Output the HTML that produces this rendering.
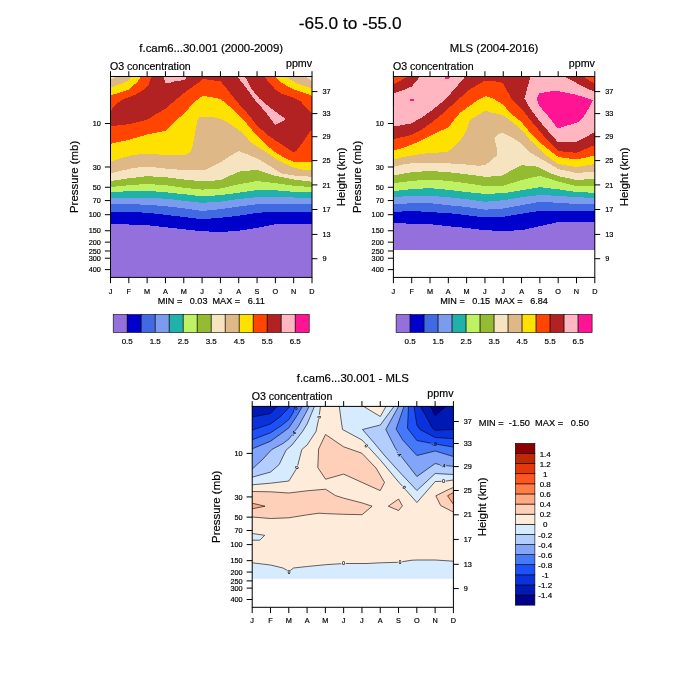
<!DOCTYPE html>
<html><head><meta charset="utf-8"><title>-65.0 to -55.0</title>
<style>
html,body{margin:0;padding:0;background:#fff;}
body{width:700px;height:700px;overflow:hidden;}
svg{display:block;font-family:"Liberation Sans",sans-serif;fill:#000;}
text{stroke:#000;stroke-width:0.18px;}
</style></head><body>
<svg width="700" height="700" viewBox="0 0 700 700">
<rect width="700" height="700" fill="#fff"/>
<g shape-rendering="crispEdges">
<rect x="110.5" y="76.5" width="201.5" height="200.9" fill="#9370DB"/>
<polygon points="110.5,76.5 110.5,224.1 128.8,224.5 147.1,225.2 165.5,227.2 183.8,229.3 202.1,231.2 220.4,232.0 238.7,230.8 257.0,227.8 275.4,224.2 293.7,224.1 312.0,224.1 312.0,76.5" fill="#0000CD" />
<polygon points="110.5,76.5 110.5,211.8 128.8,211.8 147.1,212.8 165.5,214.8 183.8,217.0 202.1,219.2 220.4,217.8 238.7,215.8 257.0,212.8 275.4,211.8 293.7,211.8 312.0,211.8 312.0,76.5" fill="#4169E1" />
<polygon points="110.5,76.5 110.5,204.2 128.8,204.2 147.1,204.7 165.5,206.2 183.8,208.3 202.1,211.0 220.4,209.2 238.7,206.5 257.0,204.2 275.4,203.9 293.7,203.9 312.0,203.9 312.0,76.5" fill="#7B9BEF" />
<polygon points="110.5,76.5 110.5,197.8 128.8,197.5 147.1,197.8 165.5,198.7 183.8,200.8 202.1,202.8 220.4,201.7 238.7,199.0 257.0,197.2 275.4,197.2 293.7,197.5 312.0,197.8 312.0,76.5" fill="#20B2AA" />
<polygon points="110.5,76.5 110.5,192.2 128.8,191.2 147.1,190.8 165.5,192.2 183.8,194.2 202.1,196.3 220.4,195.2 238.7,192.7 257.0,190.0 275.4,190.3 293.7,191.8 312.0,192.2 312.0,76.5" fill="#BEF264" />
<polygon points="110.5,76.5 110.5,187.0 128.8,185.2 147.1,184.0 165.5,185.2 183.8,187.8 202.1,189.6 220.4,188.5 238.7,184.3 257.0,181.0 275.4,183.2 293.7,185.8 312.0,187.0 312.0,76.5" fill="#94BC32" />
<polygon points="110.5,76.5 110.5,181.0 128.8,178.3 147.1,176.2 165.5,177.2 183.8,179.5 202.1,181.3 220.4,180.2 238.7,171.7 257.0,169.8 275.4,175.8 293.7,179.5 312.0,181.8 312.0,76.5" fill="#F5E4BF" />
<polygon points="110.5,76.5 110.5,173.5 120.0,171.0 132.0,168.3 144.0,166.8 156.0,167.5 165.6,168.6 184.0,170.1 204.0,170.5 210.0,167.5 220.0,162.5 230.0,156.0 238.5,151.0 247.5,154.4 257.1,158.5 270.0,166.0 275.4,169.8 282.0,173.5 293.7,175.5 312.0,176.8 312.0,76.5" fill="#DEB887" />
<polygon points="110.5,76.5 110.7,161.5 120.0,158.5 129.0,155.8 139.5,154.3 147.4,154.0 165.6,154.8 183.9,155.2 190.5,152.5 192.8,145.0 195.0,133.0 197.2,121.0 199.5,117.2 210.0,116.8 216.0,117.7 220.5,118.8 228.0,122.5 238.8,130.0 244.5,134.5 250.5,142.0 257.1,146.5 267.0,152.5 275.4,158.5 285.0,163.8 293.7,167.5 303.0,169.8 312.0,170.5 312.0,76.5" fill="#FFE100" />
<polygon points="110.5,76.5 110.7,143.8 120.0,141.7 129.0,139.8 147.4,134.5 165.6,130.8 175.5,121.0 183.9,113.5 195.0,101.5 202.2,96.2 210.0,96.7 220.5,99.2 225.0,102.6 235.0,111.0 245.0,121.5 255.0,133.5 265.0,144.0 275.0,152.0 285.0,158.0 295.0,162.3 303.0,162.3 312.2,161.8 312.0,76.5" fill="#FF4500" />
<polygon points="110.7,126.2 120.0,125.2 130.5,124.0 147.4,119.5 156.0,114.2 165.6,108.5 183.9,93.0 193.0,86.5 200.0,81.5 203.0,79.0 210.0,79.9 214.5,80.5 220.5,81.2 225.0,86.5 229.5,92.5 238.8,103.8 247.5,113.5 257.1,125.5 267.0,134.5 275.4,140.5 285.0,146.5 293.7,152.5 297.0,150.2 303.0,142.0 309.0,133.0 312.1,129.2 312.1,113.5 306.0,107.5 300.0,100.8 293.7,97.8 282.0,94.0 275.4,89.5 270.0,83.5 264.0,76.3 151.8,76.3 150.0,80.5 148.5,85.0 144.0,89.5 135.0,94.8 129.8,97.0 123.0,99.2 116.2,103.8 110.7,110.8" fill="#B22222" />
<polygon points="163.8,76.3 165.0,82.8 169.5,82.8 177.0,80.8 184.5,80.2 187.2,76.3" fill="#FFB6C1" />
<polygon points="237.0,76.3 247.5,89.5 255.0,100.0 265.5,112.0 275.2,124.8 280.5,122.5 285.8,119.2 270.0,107.5 259.5,98.5 252.0,89.5 244.8,76.3" fill="#FFB6C1" />
<polygon points="110.7,76.3 141.0,76.3 137.2,82.0 129.0,89.5 120.0,92.5 110.7,95.2" fill="#FFE100" />
<polygon points="110.7,76.3 132.0,76.3 127.5,81.2 120.0,84.2 110.7,87.7" fill="#DEB887" />
<polygon points="110.7,76.3 117.0,76.3 114.0,78.2 110.7,79.3" fill="#F5E4BF" />
<polygon points="274.5,76.3 280.5,82.0 288.0,86.5 293.7,89.5 303.0,92.5 312.1,95.8 312.1,76.3" fill="#FFE100" />
<polygon points="285.0,76.3 291.0,79.8 297.0,83.5 306.0,86.5 312.1,88.3 312.1,76.3" fill="#DEB887" />
<polygon points="305.4,76.3 312.1,81.2 312.1,76.3" fill="#F5E4BF" />
</g>
<rect x="110.5" y="76.5" width="201.5" height="200.9" fill="none" stroke="#000" stroke-width="1"/>
<path d="M110.50 76.5V71.2M110.50 277.4V283.2M128.82 76.5V71.2M128.82 277.4V283.2M147.14 76.5V71.2M147.14 277.4V283.2M165.45 76.5V71.2M165.45 277.4V283.2M183.77 76.5V71.2M183.77 277.4V283.2M202.09 76.5V71.2M202.09 277.4V283.2M220.41 76.5V71.2M220.41 277.4V283.2M238.73 76.5V71.2M238.73 277.4V283.2M257.05 76.5V71.2M257.05 277.4V283.2M275.36 76.5V71.2M275.36 277.4V283.2M293.68 76.5V71.2M293.68 277.4V283.2M312.00 76.5V71.2M312.00 277.4V283.2M110.5 123.50H104.9M110.5 167.01H104.9M110.5 187.25H104.9M110.5 200.57H104.9M110.5 214.70H104.9M110.5 230.76H104.9M110.5 242.15H104.9M110.5 250.99H104.9M110.5 258.21H104.9M110.5 269.61H104.9M312.0 91.60H317.4M312.0 113.60H317.4M312.0 136.70H317.4M312.0 160.60H317.4M312.0 184.90H317.4M312.0 209.50H317.4M312.0 234.40H317.4M312.0 258.70H317.4" stroke="#000" stroke-width="1" fill="none"/>
<text x="110.5" y="293.5" font-size="7.30" text-anchor="middle" >J</text>
<text x="128.8" y="293.5" font-size="7.30" text-anchor="middle" >F</text>
<text x="147.1" y="293.5" font-size="7.30" text-anchor="middle" >M</text>
<text x="165.5" y="293.5" font-size="7.30" text-anchor="middle" >A</text>
<text x="183.8" y="293.5" font-size="7.30" text-anchor="middle" >M</text>
<text x="202.1" y="293.5" font-size="7.30" text-anchor="middle" >J</text>
<text x="220.4" y="293.5" font-size="7.30" text-anchor="middle" >J</text>
<text x="238.7" y="293.5" font-size="7.30" text-anchor="middle" >A</text>
<text x="257.0" y="293.5" font-size="7.30" text-anchor="middle" >S</text>
<text x="275.4" y="293.5" font-size="7.30" text-anchor="middle" >O</text>
<text x="293.7" y="293.5" font-size="7.30" text-anchor="middle" >N</text>
<text x="312.0" y="293.5" font-size="7.30" text-anchor="middle" >D</text>
<text x="100.9" y="126.1" font-size="7.30" text-anchor="end" >10</text>
<text x="100.9" y="169.6" font-size="7.30" text-anchor="end" >30</text>
<text x="100.9" y="189.8" font-size="7.30" text-anchor="end" >50</text>
<text x="100.9" y="203.2" font-size="7.30" text-anchor="end" >70</text>
<text x="100.9" y="217.3" font-size="7.30" text-anchor="end" >100</text>
<text x="100.9" y="233.4" font-size="7.30" text-anchor="end" >150</text>
<text x="100.9" y="244.8" font-size="7.30" text-anchor="end" >200</text>
<text x="100.9" y="253.6" font-size="7.30" text-anchor="end" >250</text>
<text x="100.9" y="260.8" font-size="7.30" text-anchor="end" >300</text>
<text x="100.9" y="272.2" font-size="7.30" text-anchor="end" >400</text>
<text x="322.4" y="94.2" font-size="7.30" text-anchor="start" >37</text>
<text x="322.4" y="116.2" font-size="7.30" text-anchor="start" >33</text>
<text x="322.4" y="139.3" font-size="7.30" text-anchor="start" >29</text>
<text x="322.4" y="163.2" font-size="7.30" text-anchor="start" >25</text>
<text x="322.4" y="187.5" font-size="7.30" text-anchor="start" >21</text>
<text x="322.4" y="212.1" font-size="7.30" text-anchor="start" >17</text>
<text x="322.4" y="237.0" font-size="7.30" text-anchor="start" >13</text>
<text x="322.4" y="261.3" font-size="7.30" text-anchor="start" >9</text>
<text x="211.2" y="52.2" font-size="11.40" text-anchor="middle" >f.cam6...30.001 (2000-2009)</text>
<text x="110.0" y="69.6" font-size="10.60" text-anchor="start" >O3 concentration</text>
<text x="312.1" y="67.1" font-size="10.70" text-anchor="end" >ppmv</text>
<text transform="translate(78.3 176.9) rotate(-90)" font-size="11.4" text-anchor="middle">Pressure (mb)</text>
<text transform="translate(345.0 176.9) rotate(-90)" font-size="11.4" text-anchor="middle">Height (km)</text>
<text x="211.2" y="303.8" font-size="9.10" text-anchor="middle" xml:space="preserve">MIN =   0.03  MAX =   6.11</text>
<rect x="113.2" y="314.5" width="14.0" height="18.0" fill="#9370DB" stroke="#000" stroke-width="0.6"/>
<rect x="127.2" y="314.5" width="14.0" height="18.0" fill="#0000CD" stroke="#000" stroke-width="0.6"/>
<rect x="141.2" y="314.5" width="14.0" height="18.0" fill="#4169E1" stroke="#000" stroke-width="0.6"/>
<rect x="155.2" y="314.5" width="14.0" height="18.0" fill="#7B9BEF" stroke="#000" stroke-width="0.6"/>
<rect x="169.2" y="314.5" width="14.0" height="18.0" fill="#20B2AA" stroke="#000" stroke-width="0.6"/>
<rect x="183.2" y="314.5" width="14.0" height="18.0" fill="#BEF264" stroke="#000" stroke-width="0.6"/>
<rect x="197.2" y="314.5" width="14.0" height="18.0" fill="#94BC32" stroke="#000" stroke-width="0.6"/>
<rect x="211.2" y="314.5" width="14.0" height="18.0" fill="#F5E4BF" stroke="#000" stroke-width="0.6"/>
<rect x="225.2" y="314.5" width="14.0" height="18.0" fill="#DEB887" stroke="#000" stroke-width="0.6"/>
<rect x="239.2" y="314.5" width="14.0" height="18.0" fill="#FFE100" stroke="#000" stroke-width="0.6"/>
<rect x="253.2" y="314.5" width="14.0" height="18.0" fill="#FF4500" stroke="#000" stroke-width="0.6"/>
<rect x="267.2" y="314.5" width="14.0" height="18.0" fill="#B22222" stroke="#000" stroke-width="0.6"/>
<rect x="281.2" y="314.5" width="14.0" height="18.0" fill="#FFB6C1" stroke="#000" stroke-width="0.6"/>
<rect x="295.2" y="314.5" width="14.0" height="18.0" fill="#FF1493" stroke="#000" stroke-width="0.6"/>
<text x="127.2" y="343.5" font-size="8.00" text-anchor="middle" >0.5</text>
<text x="155.2" y="343.5" font-size="8.00" text-anchor="middle" >1.5</text>
<text x="183.2" y="343.5" font-size="8.00" text-anchor="middle" >2.5</text>
<text x="211.2" y="343.5" font-size="8.00" text-anchor="middle" >3.5</text>
<text x="239.2" y="343.5" font-size="8.00" text-anchor="middle" >4.5</text>
<text x="267.2" y="343.5" font-size="8.00" text-anchor="middle" >5.5</text>
<text x="295.2" y="343.5" font-size="8.00" text-anchor="middle" >6.5</text>
<g shape-rendering="crispEdges">
<rect x="393.4" y="76.5" width="201.4" height="173.3" fill="#9370DB"/>
<polygon points="393.4,76.5 393.4,222.8 411.7,223.8 430.0,224.2 448.3,226.2 466.6,228.0 484.9,230.2 503.3,231.0 521.6,230.2 539.9,226.2 558.2,222.0 576.5,222.0 594.8,222.0 594.8,76.5" fill="#0000CD" />
<polygon points="393.4,76.5 393.4,212.2 411.7,210.8 430.0,212.2 448.3,213.0 466.6,215.2 484.9,217.5 503.3,216.8 521.6,213.8 539.9,210.8 558.2,210.8 576.5,210.8 594.8,210.8 594.8,76.5" fill="#4169E1" />
<polygon points="393.4,76.5 393.4,204.3 411.7,203.2 430.0,203.2 448.3,205.2 466.6,207.0 484.9,209.7 503.3,208.5 521.6,205.2 539.9,201.8 558.2,202.8 576.5,204.0 594.8,204.3 594.8,76.5" fill="#7B9BEF" />
<polygon points="393.4,76.5 393.4,197.2 411.7,195.8 430.0,195.8 448.3,197.2 466.6,199.2 484.9,201.8 503.3,200.2 521.6,197.2 539.9,195.0 558.2,195.8 576.5,197.2 594.8,198.0 594.8,76.5" fill="#20B2AA" />
<polygon points="393.4,76.5 393.4,191.2 411.7,189.0 430.0,188.2 448.3,189.8 466.6,192.0 484.9,193.9 503.3,193.2 521.6,190.2 539.9,187.2 558.2,189.3 576.5,192.0 594.8,192.8 594.8,76.5" fill="#BEF264" />
<polygon points="393.4,76.5 393.4,183.3 411.7,180.8 430.0,179.7 448.3,180.8 466.6,183.3 484.9,186.0 503.3,185.7 521.6,180.0 539.9,175.8 558.2,181.5 576.5,186.0 594.8,185.7 594.8,76.5" fill="#94BC32" />
<polygon points="393.4,76.5 393.4,175.5 411.7,172.2 430.0,171.0 448.3,172.2 466.6,174.3 484.9,176.7 498.0,176.3 503.3,175.2 512.0,170.0 521.6,165.2 530.5,166.0 538.0,166.7 548.0,172.3 558.2,176.0 576.5,180.0 594.8,178.8 594.8,76.5" fill="#F5E4BF" />
<polygon points="393.4,76.5 393.6,166.8 403.0,164.5 411.6,163.3 429.9,163.0 448.1,163.3 466.4,164.5 478.0,165.7 485.5,165.2 493.0,158.5 496.8,155.5 497.5,151.8 496.0,145.0 494.2,138.2 499.0,133.8 502.8,133.0 511.0,136.8 521.2,143.5 530.0,152.3 543.0,160.0 558.2,169.0 576.5,173.0 594.8,171.5 594.8,76.5" fill="#DEB887" />
<polygon points="393.4,76.5 393.6,159.6 403.0,157.0 411.6,155.5 421.0,154.0 429.9,152.8 439.0,152.5 448.1,151.8 457.0,143.5 463.0,136.8 466.4,130.0 469.8,120.2 478.0,115.0 485.5,110.8 493.0,113.0 499.0,114.2 502.8,115.0 511.0,121.0 521.2,129.2 530.5,140.5 543.0,153.0 558.2,164.0 576.5,167.0 594.8,164.0 594.8,76.5" fill="#FFE100" />
<polygon points="393.4,76.5 393.6,150.2 403.0,148.0 411.6,144.7 421.0,140.5 429.9,136.0 439.0,131.5 448.1,127.8 452.5,121.8 460.0,112.8 466.4,108.2 478.0,100.0 485.5,96.2 493.0,98.5 499.0,102.2 502.8,104.5 511.0,113.5 521.2,121.8 530.5,133.0 543.0,145.0 558.2,157.0 576.5,159.5 594.8,155.5 594.8,76.5" fill="#FF4500" />
<polygon points="393.4,76.5 393.4,139.2 411.0,135.0 421.0,130.0 431.0,123.0 441.0,115.0 451.0,106.0 461.0,97.0 467.0,91.2 478.0,84.6 483.5,81.4 489.0,80.9 493.0,80.9 502.8,82.8 508.0,92.5 511.0,98.5 521.2,108.2 530.5,120.2 543.0,135.0 558.2,151.0 576.5,152.8 594.8,145.0 594.8,76.5" fill="#B22222" />
<polygon points="393.6,93.2 403.0,90.2 411.6,86.5 416.5,81.2 419.9,76.3 465.3,76.5 461.0,81.5 451.0,93.0 441.0,103.0 431.0,111.0 421.0,118.0 411.0,123.5 394.0,126.5 393.4,126.6" fill="#FFB6C1" />
<polygon points="530.5,76.3 524.5,98.5 530.5,109.0 539.5,121.0 548.5,131.5 557.8,142.0 576.1,142.0 594.9,132.2 594.9,91.8 586.0,88.0 576.1,82.8 563.5,76.3" fill="#FFB6C1" />
<polygon points="536.5,99.2 539.5,93.2 553.0,91.0 557.8,91.0 576.1,94.8 592.8,100.0 586.0,113.5 580.0,121.0 576.1,122.8 557.8,128.5 548.5,116.5 539.5,106.0" fill="#FF1493" />
<polygon points="444.0,76.5 450.0,76.5 449.0,79.0 445.5,79.0" fill="#FF1493" />
<polygon points="410.2,98.8 413.8,98.8 413.8,100.8 410.5,100.8" fill="#FF1493" />
<polygon points="393.6,76.3 407.9,76.3 400.8,80.5 393.6,84.5" fill="#FF4500" />
<polygon points="582.7,76.3 594.9,84.0 594.9,76.3" fill="#FF4500" />
</g>
<rect x="393.4" y="76.5" width="201.4" height="200.9" fill="none" stroke="#000" stroke-width="1"/>
<path d="M393.40 76.5V71.2M393.40 277.4V283.2M411.71 76.5V71.2M411.71 277.4V283.2M430.02 76.5V71.2M430.02 277.4V283.2M448.33 76.5V71.2M448.33 277.4V283.2M466.64 76.5V71.2M466.64 277.4V283.2M484.95 76.5V71.2M484.95 277.4V283.2M503.25 76.5V71.2M503.25 277.4V283.2M521.56 76.5V71.2M521.56 277.4V283.2M539.87 76.5V71.2M539.87 277.4V283.2M558.18 76.5V71.2M558.18 277.4V283.2M576.49 76.5V71.2M576.49 277.4V283.2M594.80 76.5V71.2M594.80 277.4V283.2M393.4 123.50H387.8M393.4 167.01H387.8M393.4 187.25H387.8M393.4 200.57H387.8M393.4 214.70H387.8M393.4 230.76H387.8M393.4 242.15H387.8M393.4 250.99H387.8M393.4 258.21H387.8M393.4 269.61H387.8M594.8 91.60H600.2M594.8 113.60H600.2M594.8 136.70H600.2M594.8 160.60H600.2M594.8 184.90H600.2M594.8 209.50H600.2M594.8 234.40H600.2M594.8 258.70H600.2" stroke="#000" stroke-width="1" fill="none"/>
<text x="393.4" y="293.5" font-size="7.30" text-anchor="middle" >J</text>
<text x="411.7" y="293.5" font-size="7.30" text-anchor="middle" >F</text>
<text x="430.0" y="293.5" font-size="7.30" text-anchor="middle" >M</text>
<text x="448.3" y="293.5" font-size="7.30" text-anchor="middle" >A</text>
<text x="466.6" y="293.5" font-size="7.30" text-anchor="middle" >M</text>
<text x="484.9" y="293.5" font-size="7.30" text-anchor="middle" >J</text>
<text x="503.3" y="293.5" font-size="7.30" text-anchor="middle" >J</text>
<text x="521.6" y="293.5" font-size="7.30" text-anchor="middle" >A</text>
<text x="539.9" y="293.5" font-size="7.30" text-anchor="middle" >S</text>
<text x="558.2" y="293.5" font-size="7.30" text-anchor="middle" >O</text>
<text x="576.5" y="293.5" font-size="7.30" text-anchor="middle" >N</text>
<text x="594.8" y="293.5" font-size="7.30" text-anchor="middle" >D</text>
<text x="383.8" y="126.1" font-size="7.30" text-anchor="end" >10</text>
<text x="383.8" y="169.6" font-size="7.30" text-anchor="end" >30</text>
<text x="383.8" y="189.8" font-size="7.30" text-anchor="end" >50</text>
<text x="383.8" y="203.2" font-size="7.30" text-anchor="end" >70</text>
<text x="383.8" y="217.3" font-size="7.30" text-anchor="end" >100</text>
<text x="383.8" y="233.4" font-size="7.30" text-anchor="end" >150</text>
<text x="383.8" y="244.8" font-size="7.30" text-anchor="end" >200</text>
<text x="383.8" y="253.6" font-size="7.30" text-anchor="end" >250</text>
<text x="383.8" y="260.8" font-size="7.30" text-anchor="end" >300</text>
<text x="383.8" y="272.2" font-size="7.30" text-anchor="end" >400</text>
<text x="605.2" y="94.2" font-size="7.30" text-anchor="start" >37</text>
<text x="605.2" y="116.2" font-size="7.30" text-anchor="start" >33</text>
<text x="605.2" y="139.3" font-size="7.30" text-anchor="start" >29</text>
<text x="605.2" y="163.2" font-size="7.30" text-anchor="start" >25</text>
<text x="605.2" y="187.5" font-size="7.30" text-anchor="start" >21</text>
<text x="605.2" y="212.1" font-size="7.30" text-anchor="start" >17</text>
<text x="605.2" y="237.0" font-size="7.30" text-anchor="start" >13</text>
<text x="605.2" y="261.3" font-size="7.30" text-anchor="start" >9</text>
<text x="494.1" y="52.2" font-size="11.40" text-anchor="middle" >MLS (2004-2016)</text>
<text x="392.9" y="69.6" font-size="10.60" text-anchor="start" >O3 concentration</text>
<text x="594.9" y="67.1" font-size="10.70" text-anchor="end" >ppmv</text>
<text transform="translate(361.2 176.9) rotate(-90)" font-size="11.4" text-anchor="middle">Pressure (mb)</text>
<text transform="translate(627.8 176.9) rotate(-90)" font-size="11.4" text-anchor="middle">Height (km)</text>
<text x="494.1" y="303.8" font-size="9.10" text-anchor="middle" xml:space="preserve">MIN =   0.15  MAX =   6.84</text>
<rect x="396.1" y="314.5" width="14.0" height="18.0" fill="#9370DB" stroke="#000" stroke-width="0.6"/>
<rect x="410.1" y="314.5" width="14.0" height="18.0" fill="#0000CD" stroke="#000" stroke-width="0.6"/>
<rect x="424.1" y="314.5" width="14.0" height="18.0" fill="#4169E1" stroke="#000" stroke-width="0.6"/>
<rect x="438.1" y="314.5" width="14.0" height="18.0" fill="#7B9BEF" stroke="#000" stroke-width="0.6"/>
<rect x="452.1" y="314.5" width="14.0" height="18.0" fill="#20B2AA" stroke="#000" stroke-width="0.6"/>
<rect x="466.1" y="314.5" width="14.0" height="18.0" fill="#BEF264" stroke="#000" stroke-width="0.6"/>
<rect x="480.1" y="314.5" width="14.0" height="18.0" fill="#94BC32" stroke="#000" stroke-width="0.6"/>
<rect x="494.1" y="314.5" width="14.0" height="18.0" fill="#F5E4BF" stroke="#000" stroke-width="0.6"/>
<rect x="508.1" y="314.5" width="14.0" height="18.0" fill="#DEB887" stroke="#000" stroke-width="0.6"/>
<rect x="522.1" y="314.5" width="14.0" height="18.0" fill="#FFE100" stroke="#000" stroke-width="0.6"/>
<rect x="536.1" y="314.5" width="14.0" height="18.0" fill="#FF4500" stroke="#000" stroke-width="0.6"/>
<rect x="550.1" y="314.5" width="14.0" height="18.0" fill="#B22222" stroke="#000" stroke-width="0.6"/>
<rect x="564.1" y="314.5" width="14.0" height="18.0" fill="#FFB6C1" stroke="#000" stroke-width="0.6"/>
<rect x="578.1" y="314.5" width="14.0" height="18.0" fill="#FF1493" stroke="#000" stroke-width="0.6"/>
<text x="410.1" y="343.5" font-size="8.00" text-anchor="middle" >0.5</text>
<text x="438.1" y="343.5" font-size="8.00" text-anchor="middle" >1.5</text>
<text x="466.1" y="343.5" font-size="8.00" text-anchor="middle" >2.5</text>
<text x="494.1" y="343.5" font-size="8.00" text-anchor="middle" >3.5</text>
<text x="522.1" y="343.5" font-size="8.00" text-anchor="middle" >4.5</text>
<text x="550.1" y="343.5" font-size="8.00" text-anchor="middle" >5.5</text>
<text x="578.1" y="343.5" font-size="8.00" text-anchor="middle" >6.5</text>
<g>
<rect x="252.2" y="406.4" width="201.2" height="172.3" fill="#FFEBDA"/>
<polygon points="252.2,484.8 270.6,483.2 288.9,481.0 297.2,467.5 301.8,449.5 307.1,445.0 316.0,431.5 319.0,417.2 320.5,406.3 252.2,406.4" fill="#D7EBFF" />
<polygon points="252.2,477.2 270.6,472.0 279.2,464.5 286.0,450.2 292.0,445.0 302.5,431.5 307.1,424.0 311.5,413.5 314.5,406.3 252.2,406.4" fill="#B4CDFF" />
<polygon points="252.2,469.0 262.0,460.0 271.8,449.5 283.0,443.5 288.9,439.0 298.0,427.0 305.5,413.5 309.2,406.3 252.2,406.4" fill="#82A5FA" />
<polygon points="252.2,448.8 270.6,441.2 283.0,432.2 288.9,427.8 296.5,416.5 302.5,406.3 252.2,406.4" fill="#4678FA" />
<polygon points="252.2,439.8 270.6,432.7 281.5,425.5 288.9,419.5 293.5,412.0 295.0,406.3 252.2,406.4" fill="#1E50FA" />
<polygon points="252.2,430.0 270.5,424.0 281.0,416.0 290.0,406.4 252.2,406.4" fill="#0A32DC" />
<polygon points="252.2,417.0 270.5,413.5 277.0,406.4 252.2,406.4" fill="#0019B4" />
<polygon points="339.3,406.4 340.8,418.0 342.5,429.5 362.0,440.0 380.3,460.0 398.6,482.0 416.9,502.5 435.2,481.5 444.0,481.3 453.4,480.0 453.4,406.4" fill="#D7EBFF" />
<polygon points="394.0,406.4 380.3,425.0 362.5,429.5 375.0,444.0 385.0,456.0 398.6,471.0 416.9,490.5 435.2,473.5 453.4,474.5 453.4,406.4" fill="#B4CDFF" />
<polygon points="398.5,406.4 385.8,429.5 395.0,447.5 398.6,453.0 416.9,476.5 435.2,463.5 443.0,465.5 453.4,466.3 453.4,406.4" fill="#82A5FA" />
<polygon points="404.0,406.4 396.1,429.0 402.7,440.0 416.9,455.5 435.2,451.0 453.4,456.5 453.4,406.4" fill="#4678FA" />
<polygon points="408.5,406.4 407.5,428.2 416.9,440.5 435.2,444.0 453.4,447.0 453.4,406.4" fill="#1E50FA" />
<polygon points="414.0,406.4 416.9,425.0 420.0,429.5 435.2,437.5 453.4,438.6 453.4,406.4" fill="#0A32DC" />
<polygon points="420.4,406.4 427.0,418.0 432.5,428.2 435.2,430.3 453.4,429.5 453.4,406.4" fill="#0019B4" />
<polygon points="430.5,406.4 435.2,415.5 446.0,406.4" fill="#00008B" />
<polygon points="363.5,406.4 380.3,416.5 386.0,406.4" fill="#FFEBDA" />
<polygon points="252.2,562.8 270.5,565.0 283.0,568.0 287.5,570.5 289.0,572.3 290.5,570.3 293.5,568.0 307.2,566.5 325.5,564.7 343.8,563.5 352.0,563.5 367.0,563.5 380.3,562.8 398.6,562.3 412.0,560.2 417.0,560.0 435.2,560.0 453.4,561.2 453.4,578.7 252.2,578.7" fill="#D7EBFF" />
<polygon points="252.2,533.5 264.7,535.3 259.8,540.2 252.2,540.2" fill="#D7EBFF" />
<polygon points="325.5,434.5 343.6,446.8 361.8,453.2 376.0,468.0 384.5,482.4 380.2,490.6 343.6,474.1 325.6,479.2 317.8,467.6 318.6,449.0 325.5,434.5" fill="#FFD0B9" />
<polygon points="252.2,491.5 270.5,491.8 288.8,493.0 307.0,490.8 325.6,489.2 335.5,495.6 343.8,498.2 362.3,503.0 372.1,506.2 362.1,514.7 343.7,514.3 325.5,513.6 319.0,513.2 307.2,514.8 288.9,517.8 270.5,518.5 252.2,517.0" fill="#FFD0B9" />
<polygon points="388.3,506.2 398.6,499.0 402.4,505.9 398.6,510.5 388.3,506.2" fill="#FFD0B9" />
<polygon points="453.4,487.5 448.5,489.5 435.8,495.8 440.7,505.6 453.4,512.0" fill="#FFD0B9" />
<polygon points="453.4,492.5 447.6,495.8 453.4,504.3" fill="#FFAA82" />
<polygon points="252.2,503.2 265.0,506.2 252.2,508.8" fill="#FFAA82" />
<polyline points="252.2,484.8 270.6,483.2 288.9,481.0 296.2,469.2" stroke="#000" stroke-width="0.6" fill="none"/>
<polyline points="297.7,465.5 301.8,449.5 307.1,445.0 316.0,431.5 318.6,419.2" stroke="#000" stroke-width="0.6" fill="none"/>
<polyline points="319.3,414.8 320.5,406.3" stroke="#000" stroke-width="0.6" fill="none"/>
<polyline points="252.2,477.2 270.6,472.0 279.2,464.5 286.0,450.2 292.0,445.0 302.5,431.5 307.1,424.0 311.5,413.5 314.5,406.3" stroke="#000" stroke-width="0.6" fill="none"/>
<polyline points="252.2,469.0 262.0,460.0 271.8,449.5 283.0,443.5 288.9,439.0 291.1,436.1" stroke="#000" stroke-width="0.6" fill="none"/>
<polyline points="295.0,430.9 298.0,427.0 305.5,413.5 309.2,406.3" stroke="#000" stroke-width="0.6" fill="none"/>
<polyline points="252.2,448.8 270.6,441.2 283.0,432.2 288.9,427.8 296.5,416.5 302.5,406.3" stroke="#000" stroke-width="0.6" fill="none"/>
<polyline points="252.2,439.8 270.6,432.7 281.5,425.5 288.9,419.5 293.5,412.0 294.1,409.6" stroke="#000" stroke-width="0.6" fill="none"/>
<polyline points="252.2,430.0 270.5,424.0 281.0,416.0 290.0,406.4" stroke="#000" stroke-width="0.6" fill="none"/>
<polyline points="252.2,417.0 270.5,413.5 277.0,406.4" stroke="#000" stroke-width="0.6" fill="none"/>
<polyline points="339.3,406.4 340.8,418.0 342.5,429.5 362.0,440.0 365.6,443.9" stroke="#000" stroke-width="0.6" fill="none"/>
<polyline points="368.3,446.9 380.3,460.0 398.6,482.0 402.4,486.2" stroke="#000" stroke-width="0.6" fill="none"/>
<polyline points="405.1,489.2 416.9,502.5 435.2,481.5 441.6,481.4" stroke="#000" stroke-width="0.6" fill="none"/>
<polyline points="445.6,481.1 453.4,480.0" stroke="#000" stroke-width="0.6" fill="none"/>
<polyline points="394.0,406.4 380.3,425.0 362.5,429.5 375.0,444.0 385.0,456.0 398.6,471.0 416.9,490.5 435.2,473.5 453.4,474.5" stroke="#000" stroke-width="0.6" fill="none"/>
<polyline points="398.5,406.4 385.8,429.5 395.0,447.5 397.2,450.9" stroke="#000" stroke-width="0.6" fill="none"/>
<polyline points="401.1,456.2 416.9,476.5 435.2,463.5 439.9,464.7" stroke="#000" stroke-width="0.6" fill="none"/>
<polyline points="446.2,465.7 453.4,466.3" stroke="#000" stroke-width="0.6" fill="none"/>
<polyline points="404.0,406.4 396.1,429.0 402.7,440.0 416.9,455.5 435.2,451.0 453.4,456.5" stroke="#000" stroke-width="0.6" fill="none"/>
<polyline points="408.5,406.4 407.5,428.2 416.9,440.5 430.8,443.2" stroke="#000" stroke-width="0.6" fill="none"/>
<polyline points="437.2,444.3 453.4,447.0" stroke="#000" stroke-width="0.6" fill="none"/>
<polyline points="414.0,406.4 416.9,425.0 420.0,429.5 435.2,437.5 453.4,438.6" stroke="#000" stroke-width="0.6" fill="none"/>
<polyline points="420.4,406.4 427.0,418.0 432.5,428.2 435.2,430.3 453.4,429.5" stroke="#000" stroke-width="0.6" fill="none"/>
<polyline points="430.5,406.4 435.2,415.5 446.0,406.4" stroke="#000" stroke-width="0.6" fill="none"/>
<polyline points="363.5,406.4 380.3,416.5 386.0,406.4" stroke="#000" stroke-width="0.6" fill="none"/>
<polyline points="252.2,562.8 270.5,565.0 283.0,568.0 287.5,570.5" stroke="#000" stroke-width="0.6" fill="none"/>
<polyline points="290.2,570.6 290.5,570.3 293.5,568.0 307.2,566.5 325.5,564.7 341.3,563.7" stroke="#000" stroke-width="0.6" fill="none"/>
<polyline points="345.8,563.5 367.0,563.5 380.3,562.8 397.8,562.3" stroke="#000" stroke-width="0.6" fill="none"/>
<polyline points="402.3,561.7 412.0,560.2 417.0,560.0 435.2,560.0 453.4,561.2" stroke="#000" stroke-width="0.6" fill="none"/>
<polyline points="252.2,533.5 264.7,535.3 259.8,540.2 252.2,540.2" stroke="#000" stroke-width="0.6" fill="none"/>
<polyline points="325.5,434.5 343.6,446.8 361.8,453.2 376.0,468.0 384.5,482.4 380.2,490.6 343.6,474.1 325.6,479.2 317.8,467.6 318.6,449.0 325.5,434.5" stroke="#000" stroke-width="0.6" fill="none"/>
<polyline points="252.2,491.5 270.5,491.8 288.8,493.0 307.0,490.8 325.6,489.2 335.5,495.6 343.8,498.2 362.3,503.0 372.1,506.2 362.1,514.7 343.7,514.3 325.5,513.6 319.0,513.2 307.2,514.8 288.9,517.8 270.5,518.5 252.2,517.0" stroke="#000" stroke-width="0.6" fill="none"/>
<polyline points="388.3,506.2 398.6,499.0 402.4,505.9 398.6,510.5 388.3,506.2" stroke="#000" stroke-width="0.6" fill="none"/>
<polyline points="453.4,487.5 448.5,489.5 435.8,495.8 440.7,505.6 453.4,512.0" stroke="#000" stroke-width="0.6" fill="none"/>
<polyline points="453.4,492.5 447.6,495.8 453.4,504.3" stroke="#000" stroke-width="0.6" fill="none"/>
<polyline points="252.2,503.2 265.0,506.2 252.2,508.8" stroke="#000" stroke-width="0.6" fill="none"/>
<text transform="translate(295.9 408.3) rotate(-50)" font-size="4.6" text-anchor="middle" dominant-baseline="central" fill="#111">0</text>
<text transform="translate(319.4 417.1) rotate(-85)" font-size="4.6" text-anchor="middle" dominant-baseline="central" fill="#111">0</text>
<text transform="translate(297.0 467.5) rotate(-65)" font-size="4.6" text-anchor="middle" dominant-baseline="central" fill="#111">0</text>
<text transform="translate(366.3 446.0) rotate(48)" font-size="4.6" text-anchor="middle" dominant-baseline="central" fill="#111">0</text>
<text transform="translate(404.1 487.4) rotate(48)" font-size="4.6" text-anchor="middle" dominant-baseline="central" fill="#111">0</text>
<text transform="translate(443.6 481.4) rotate(0)" font-size="4.6" text-anchor="middle" dominant-baseline="central" fill="#111">0</text>
<text transform="translate(289.0 572.2) rotate(0)" font-size="4.6" text-anchor="middle" dominant-baseline="central" fill="#111">0</text>
<text transform="translate(343.6 563.6) rotate(0)" font-size="4.6" text-anchor="middle" dominant-baseline="central" fill="#111">0</text>
<text transform="translate(400.0 562.2) rotate(0)" font-size="4.6" text-anchor="middle" dominant-baseline="central" fill="#111">0</text>
<text transform="translate(293.2 433.8) rotate(-42)" font-size="4.6" text-anchor="middle" dominant-baseline="central" fill="#111">-.4</text>
<text transform="translate(398.6 453.8) rotate(52)" font-size="4.6" text-anchor="middle" dominant-baseline="central" fill="#111">-.4</text>
<text transform="translate(442.8 465.6) rotate(5)" font-size="4.6" text-anchor="middle" dominant-baseline="central" fill="#111">-.4</text>
<text transform="translate(434.0 444.1) rotate(8)" font-size="4.6" text-anchor="middle" dominant-baseline="central" fill="#111">-.8</text>
</g>
<rect x="252.2" y="406.4" width="201.2" height="200.9" fill="none" stroke="#000" stroke-width="1"/>
<path d="M252.20 406.4V401.1M252.20 607.3V613.1M270.49 406.4V401.1M270.49 607.3V613.1M288.78 406.4V401.1M288.78 607.3V613.1M307.07 406.4V401.1M307.07 607.3V613.1M325.36 406.4V401.1M325.36 607.3V613.1M343.65 406.4V401.1M343.65 607.3V613.1M361.95 406.4V401.1M361.95 607.3V613.1M380.24 406.4V401.1M380.24 607.3V613.1M398.53 406.4V401.1M398.53 607.3V613.1M416.82 406.4V401.1M416.82 607.3V613.1M435.11 406.4V401.1M435.11 607.3V613.1M453.40 406.4V401.1M453.40 607.3V613.1M252.2 453.40H246.6M252.2 496.91H246.6M252.2 517.15H246.6M252.2 530.47H246.6M252.2 544.60H246.6M252.2 560.66H246.6M252.2 572.05H246.6M252.2 580.89H246.6M252.2 588.11H246.6M252.2 599.51H246.6M453.4 421.50H458.8M453.4 443.50H458.8M453.4 466.60H458.8M453.4 490.50H458.8M453.4 514.80H458.8M453.4 539.40H458.8M453.4 564.30H458.8M453.4 588.60H458.8" stroke="#000" stroke-width="1" fill="none"/>
<text x="252.2" y="623.4" font-size="7.30" text-anchor="middle" >J</text>
<text x="270.5" y="623.4" font-size="7.30" text-anchor="middle" >F</text>
<text x="288.8" y="623.4" font-size="7.30" text-anchor="middle" >M</text>
<text x="307.1" y="623.4" font-size="7.30" text-anchor="middle" >A</text>
<text x="325.4" y="623.4" font-size="7.30" text-anchor="middle" >M</text>
<text x="343.7" y="623.4" font-size="7.30" text-anchor="middle" >J</text>
<text x="361.9" y="623.4" font-size="7.30" text-anchor="middle" >J</text>
<text x="380.2" y="623.4" font-size="7.30" text-anchor="middle" >A</text>
<text x="398.5" y="623.4" font-size="7.30" text-anchor="middle" >S</text>
<text x="416.8" y="623.4" font-size="7.30" text-anchor="middle" >O</text>
<text x="435.1" y="623.4" font-size="7.30" text-anchor="middle" >N</text>
<text x="453.4" y="623.4" font-size="7.30" text-anchor="middle" >D</text>
<text x="242.6" y="456.0" font-size="7.30" text-anchor="end" >10</text>
<text x="242.6" y="499.5" font-size="7.30" text-anchor="end" >30</text>
<text x="242.6" y="519.7" font-size="7.30" text-anchor="end" >50</text>
<text x="242.6" y="533.1" font-size="7.30" text-anchor="end" >70</text>
<text x="242.6" y="547.2" font-size="7.30" text-anchor="end" >100</text>
<text x="242.6" y="563.3" font-size="7.30" text-anchor="end" >150</text>
<text x="242.6" y="574.7" font-size="7.30" text-anchor="end" >200</text>
<text x="242.6" y="583.5" font-size="7.30" text-anchor="end" >250</text>
<text x="242.6" y="590.7" font-size="7.30" text-anchor="end" >300</text>
<text x="242.6" y="602.1" font-size="7.30" text-anchor="end" >400</text>
<text x="463.8" y="424.1" font-size="7.30" text-anchor="start" >37</text>
<text x="463.8" y="446.1" font-size="7.30" text-anchor="start" >33</text>
<text x="463.8" y="469.2" font-size="7.30" text-anchor="start" >29</text>
<text x="463.8" y="493.1" font-size="7.30" text-anchor="start" >25</text>
<text x="463.8" y="517.4" font-size="7.30" text-anchor="start" >21</text>
<text x="463.8" y="542.0" font-size="7.30" text-anchor="start" >17</text>
<text x="463.8" y="566.9" font-size="7.30" text-anchor="start" >13</text>
<text x="463.8" y="591.2" font-size="7.30" text-anchor="start" >9</text>
<text x="352.8" y="382.1" font-size="11.40" text-anchor="middle" >f.cam6...30.001 - MLS</text>
<text x="251.7" y="399.5" font-size="10.60" text-anchor="start" >O3 concentration</text>
<text x="453.5" y="397.0" font-size="10.70" text-anchor="end" >ppmv</text>
<text transform="translate(220.0 506.8) rotate(-90)" font-size="11.4" text-anchor="middle">Pressure (mb)</text>
<text transform="translate(486.4 506.8) rotate(-90)" font-size="11.4" text-anchor="middle">Height (km)</text>
<text x="478.8" y="425.8" font-size="9.25" text-anchor="start" xml:space="preserve">MIN =  -1.50  MAX =   0.50</text>
<rect x="515.3" y="595.05" width="19.6" height="10.11" fill="#00008B" stroke="#000" stroke-width="0.6"/>
<rect x="515.3" y="584.94" width="19.6" height="10.11" fill="#0019B4" stroke="#000" stroke-width="0.6"/>
<rect x="515.3" y="574.83" width="19.6" height="10.11" fill="#0A32DC" stroke="#000" stroke-width="0.6"/>
<rect x="515.3" y="564.72" width="19.6" height="10.11" fill="#1E50FA" stroke="#000" stroke-width="0.6"/>
<rect x="515.3" y="554.61" width="19.6" height="10.11" fill="#4678FA" stroke="#000" stroke-width="0.6"/>
<rect x="515.3" y="544.50" width="19.6" height="10.11" fill="#82A5FA" stroke="#000" stroke-width="0.6"/>
<rect x="515.3" y="534.39" width="19.6" height="10.11" fill="#B4CDFF" stroke="#000" stroke-width="0.6"/>
<rect x="515.3" y="524.28" width="19.6" height="10.11" fill="#D7EBFF" stroke="#000" stroke-width="0.6"/>
<rect x="515.3" y="514.17" width="19.6" height="10.11" fill="#FFEBDA" stroke="#000" stroke-width="0.6"/>
<rect x="515.3" y="504.06" width="19.6" height="10.11" fill="#FFD0B9" stroke="#000" stroke-width="0.6"/>
<rect x="515.3" y="493.95" width="19.6" height="10.11" fill="#FFAA82" stroke="#000" stroke-width="0.6"/>
<rect x="515.3" y="483.84" width="19.6" height="10.11" fill="#FF7D46" stroke="#000" stroke-width="0.6"/>
<rect x="515.3" y="473.73" width="19.6" height="10.11" fill="#FF551E" stroke="#000" stroke-width="0.6"/>
<rect x="515.3" y="463.62" width="19.6" height="10.11" fill="#E4370A" stroke="#000" stroke-width="0.6"/>
<rect x="515.3" y="453.51" width="19.6" height="10.11" fill="#BE2805" stroke="#000" stroke-width="0.6"/>
<rect x="515.3" y="443.40" width="19.6" height="10.11" fill="#8B0000" stroke="#000" stroke-width="0.6"/>
<text x="545.2" y="598.1" font-size="8.00" text-anchor="middle" >-1.4</text>
<text x="545.2" y="588.0" font-size="8.00" text-anchor="middle" >-1.2</text>
<text x="545.2" y="577.9" font-size="8.00" text-anchor="middle" >-1</text>
<text x="545.2" y="567.8" font-size="8.00" text-anchor="middle" >-0.8</text>
<text x="545.2" y="557.7" font-size="8.00" text-anchor="middle" >-0.6</text>
<text x="545.2" y="547.6" font-size="8.00" text-anchor="middle" >-0.4</text>
<text x="545.2" y="537.5" font-size="8.00" text-anchor="middle" >-0.2</text>
<text x="545.2" y="527.4" font-size="8.00" text-anchor="middle" >0</text>
<text x="545.2" y="517.3" font-size="8.00" text-anchor="middle" >0.2</text>
<text x="545.2" y="507.2" font-size="8.00" text-anchor="middle" >0.4</text>
<text x="545.2" y="497.1" font-size="8.00" text-anchor="middle" >0.6</text>
<text x="545.2" y="486.9" font-size="8.00" text-anchor="middle" >0.8</text>
<text x="545.2" y="476.8" font-size="8.00" text-anchor="middle" >1</text>
<text x="545.2" y="466.7" font-size="8.00" text-anchor="middle" >1.2</text>
<text x="545.2" y="456.6" font-size="8.00" text-anchor="middle" >1.4</text>
<text x="350.2" y="28.7" font-size="17.30" text-anchor="middle" >-65.0 to -55.0</text>
</svg>
</body></html>
